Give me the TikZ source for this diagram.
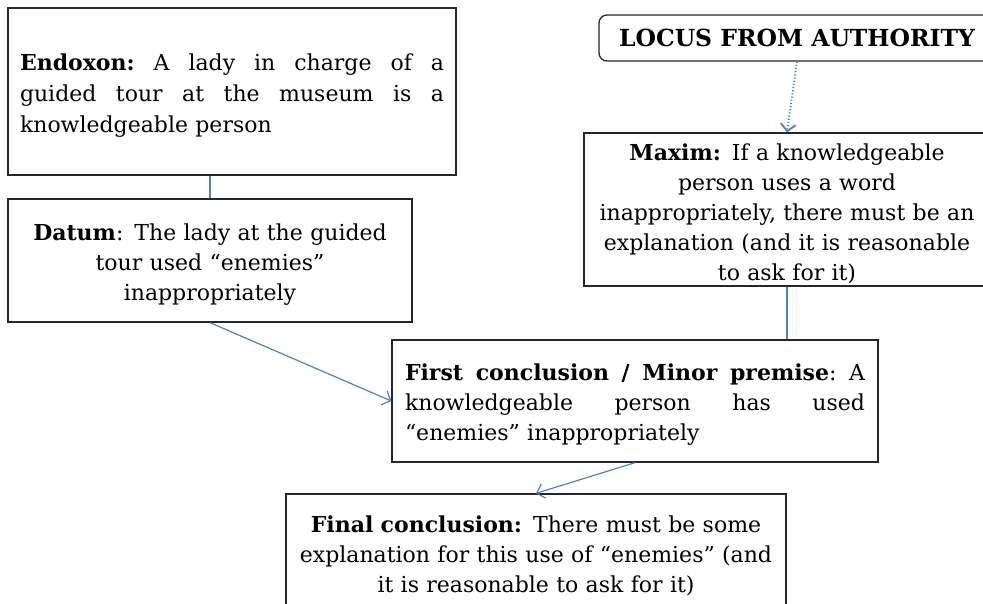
\documentclass[tikz,border=0pt]{standalone}
\usepackage{fontspec}
\setmainfont{DejaVu Serif}
\usetikzlibrary{arrows.meta}
\definecolor{lnblue}{HTML}{4F81BD}
\newcommand\jline[2]{\leavevmode\hbox to #1{#2}}
\newcommand\lowertext{\endgraf\vspace{-8pt}}
\begin{document}
\begin{tikzpicture}[x=1pt,y=-1pt,
  box/.style={draw=black!85, line width=1.3pt, inner sep=0pt, font=\fontsize{22}{30}\selectfont},
  lower/.style={execute at end node=\lowertext},
  conn/.style={draw=lnblue, line width=1.2pt},
  arr/.style={conn, -{Straight Barb[length=7pt,width=15pt]}}]
\useasboundingbox (0,0) rectangle (983,603);
\node[box, lower, minimum width=448, minimum height=167, text width=424, align=left] (endoxon) at (232,91.5)
  {\jline{424pt}{\textbf{Endoxon:}\hfill A\hfill lady\hfill in\hfill charge\hfill of\hfill a}\\[1pt]
   \jline{424pt}{guided\hfill tour\hfill at\hfill the\hfill museum\hfill is\hfill a}\\[1pt]
   knowledgeable person};
\node[box, lower, minimum width=404, minimum height=123, text width=400, align=center] (datum) at (210,260.5)
  {\textbf{Datum}: The lady at the guided\\ tour used “enemies”\\ inappropriately};
\node[box, rounded corners=8pt, minimum width=396, minimum height=46, font=\fontsize{23.5}{30}\selectfont\bfseries] (locus) at (797,38)
  {LOCUS FROM AUTHORITY};
\node[box, lower, minimum width=406, minimum height=153, text width=400, align=center] (maxim) at (787,209.5)
  {\textbf{Maxim:} If a knowledgeable\\ person uses a word\\ inappropriately, there must be an\\ explanation (and it is reasonable\\ to ask for it)};
\node[box, lower, minimum width=486, minimum height=122, text width=460, align=left] (first) at (635,401)
  {\jline{460pt}{\textbf{First\hfill conclusion\hfill /\hfill Minor\hfill premise}:\hfill A}\\
   \jline{460pt}{knowledgeable\hfill person\hfill has\hfill used}\\
   “enemies” inappropriately};
\node[box, lower, minimum width=500, minimum height=116, text width=494, align=center] (final) at (536,552)
  {\textbf{Final conclusion:} There must be some\\ explanation for this use of “enemies” (and\\ it is reasonable to ask for it)};
\draw[conn] (datum.north) -- (datum.north |- endoxon.south);
\draw[arr, dotted, line width=1.8pt] (locus.south) -- (maxim.north);
\draw[conn] (maxim.south) -- (maxim.south |- first.north);
\draw[arr] (datum.south) -- (first.west);
\draw[arr] (first.south) -- (final.north);
\end{tikzpicture}
\end{document}
